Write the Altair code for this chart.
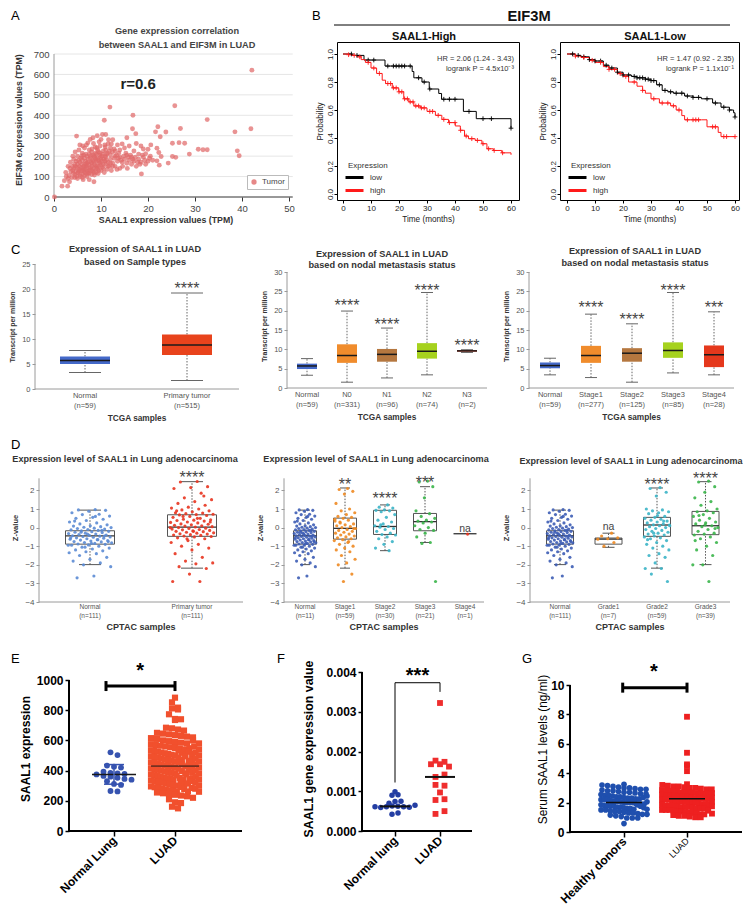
import json
import altair as alt
import pandas as pd

FONT = "Liberation Sans"

# ============================ DATA ============================
# ---- A: SAAL1 (x, TPM) vs EIF3M (y, TPM) in LUAD tumours
A_POINTS = [
    (42.1, 621), (41.9, 334), (38.5, 319), (39.0, 226), (39.4, 202), (32.6, 379),
    (30.7, 234), (31.7, 231), (32.6, 231), (28.8, 210), (26.9, 335), (26.6, 266),
    (27.8, 263), (25.2, 263), (25.2, 198), (25.9, 194), (24.3, 166), (25.7, 447),
    (23.8, 318), (22.1, 344), (21.6, 319), (22.6, 295), (21.9, 239), (22.3, 218),
    (22.8, 198), (21.9, 177), (22.4, 156), (20.6, 255), (18.6, 113), (16.8, 400),
    (16.7, 334), (17.4, 310), (11.9, 440), (10.7, 376), (15.5, 290), (20.0, 234),
    (0.1, 0), (1.7, 53), (2.9, 53), (4.8, 298), (7.7, 282), (8.3, 290), (10.0, 282),
    (10.3, 306), (11.0, 306), (5.5, 255), (6.5, 240), (9.2, 300), (12.5, 280),
    (13.5, 255), (14.5, 260), (15.0, 240), (16.0, 250), (17.5, 262), (18.5, 250),
    (19.0, 235), (17.0, 225), (18.0, 210), (19.5, 212), (20.5, 200), (16.5, 195),
    (15.5, 205), (14.0, 230), (13.0, 225), (12.0, 240), (11.5, 260), (9.8, 250),
    (8.8, 245), (7.5, 230), (6.0, 215), (5.0, 200), (4.2, 185), (3.5, 170), (3.0, 150),
    (2.5, 120), (3.2, 105), (3.8, 95), (4.5, 110), (5.2, 125), (6.2, 140), (7.0, 155),
    (8.0, 165), (9.0, 175), (10.0, 185), (11.0, 195), (12.0, 205), (13.0, 200),
    (14.0, 195), (15.0, 185), (16.0, 180), (17.0, 175), (18.0, 185), (19.0, 195),
    (20.0, 175), (21.0, 180), (19.5, 160), (18.5, 170), (17.5, 150), (16.5, 160),
    (15.5, 165), (14.5, 170), (13.5, 175), (12.5, 165), (11.5, 170), (10.5, 160),
    (9.5, 150), (8.5, 140), (7.5, 130), (6.5, 120), (5.5, 110), (4.8, 100), (4.0, 130),
    (4.5, 150), (5.0, 160), (5.5, 170), (6.0, 180), (6.5, 190), (7.0, 200), (7.5, 210),
    (8.0, 220), (8.5, 200), (9.0, 210), (9.5, 220), (10.5, 225), (11.0, 230),
    (12.0, 185), (13.0, 150), (14.0, 140), (10.0, 130), (9.0, 120), (8.0, 110),
    (7.0, 100), (6.0, 95), (7.5, 85), (8.5, 75), (6.5, 160), (7.2, 170), (8.2, 180),
    (9.2, 190), (10.2, 200), (11.2, 210), (5.8, 145), (6.8, 150), (7.8, 145), (8.8, 155),
    (9.8, 165), (10.8, 175), (11.8, 150), (12.8, 190), (13.8, 215), (3.6, 125),
    (4.3, 140), (5.3, 135), (6.3, 128), (7.3, 118), (8.3, 128), (9.3, 138), (10.3, 145),
    (11.3, 135), (6.7, 175), (7.7, 190), (8.7, 195), (9.7, 205), (5.7, 190), (4.7, 175),
    (8.1, 235), (9.1, 240), (6.9, 255), (10.9, 245), (12.2, 260), (11.6, 280),
    (4.1, 115), (4.6, 125), (5.1, 118), (5.6, 128), (6.1, 112), (6.6, 135), (7.1, 125),
    (7.6, 140), (8.1, 150), (8.6, 160), (9.1, 150), (9.6, 170), (10.1, 175), (10.6, 185),
    (11.1, 180), (4.4, 160), (4.9, 145), (5.4, 150), (5.9, 160), (6.4, 150), (6.9, 165),
    (7.4, 160), (7.9, 170), (8.4, 175), (8.9, 185), (9.4, 180), (9.9, 195), (10.4, 210),
    (10.9, 200), (11.4, 215), (12.4, 220), (5.2, 180), (5.9, 200), (6.3, 205), (6.8, 210),
    (7.3, 185), (7.8, 200), (8.3, 205), (8.8, 215), (9.3, 230), (9.8, 215), (10.8, 255),
    (11.8, 225), (12.8, 235), (13.3, 205), (13.7, 190), (14.3, 180), (14.8, 200),
    (15.3, 215), (15.8, 195), (16.3, 205), (16.8, 185), (17.3, 195), (17.8, 170),
    (18.3, 160), (18.8, 205), (19.3, 180), (20.3, 190), (6.0, 130), (6.5, 105), (7.0, 140),
    (7.5, 115), (8.0, 130), (8.5, 120), (9.0, 140), (9.5, 130), (10.0, 155), (10.5, 140),
    (11.0, 160), (11.5, 150), (12.0, 165), (12.5, 150), (3.4, 140), (3.9, 150), (4.4, 95),
    (5.0, 90), (5.6, 100), (6.2, 85), (7.0, 115), (8.6, 108), (9.4, 115), (10.7, 120),
    (12.2, 130), (13.4, 135), (14.6, 150), (15.6, 140), (4.0, 200), (4.5, 220), (5.3, 230),
    (6.1, 250), (7.2, 265), (8.4, 262), (9.6, 270), (3.0, 90), (2.2, 80), (2.6, 100),
    (3.3, 75),
]
A_XTICKS = [0, 10, 20, 30, 40, 50]
A_YTICKS = [0, 100, 200, 300, 400, 500, 600, 700]
A_R_NOTE = ("r=0.6", 17.9, 553)

# ---- B: Kaplan-Meier curves (months, survival probability)
B1_LOW_T = [0, 3.3, 7.5, 15, 24.7, 25.3, 28.2, 30.8, 34.2, 35.2, 43, 47.6, 60]
B1_LOW_S = [1.0, 0.99, 0.957, 0.914, 0.875, 0.83, 0.80, 0.75, 0.718, 0.677, 0.59, 0.538, 0.47]
B1_HIGH_T = [0, 2, 3.5, 5, 6.5, 8, 10, 12, 14, 15.2, 17.6, 19.9, 21.7, 23.5, 25.3, 27.6, 30,
             33, 35.3, 37.7, 40.1, 41.9, 43.4, 44.8, 47.2, 49.6, 51.4, 53.7, 56.7, 60]
B1_HIGH_S = [1.0, 0.995, 0.99, 0.98, 0.96, 0.94, 0.90, 0.861, 0.813, 0.789, 0.758, 0.73, 0.68,
             0.658, 0.629, 0.615, 0.59, 0.562, 0.533, 0.51, 0.486, 0.455, 0.414, 0.395, 0.383,
             0.359, 0.323, 0.311, 0.294, 0.28]
B1_LOW_CENS = [3, 5, 9, 11, 16, 18, 19, 20, 21, 22, 24, 27, 29, 31, 36, 38, 40, 45, 50, 53, 60]
B1_HIGH_CENS = [2, 4, 6, 9, 11, 13, 16, 17, 18, 19, 20, 21, 22, 23, 24, 25, 26, 27, 28, 29, 31,
                32, 34, 36, 38, 40, 42, 44, 46, 48, 50, 52, 54, 57]
B2_LOW_T = [0, 3, 5, 8, 10, 13, 15, 18, 20, 23, 25, 28, 30, 32, 34, 36, 38, 42, 45, 48, 52,
            55, 58, 59.5, 60]
B2_LOW_S = [1.0, 0.99, 0.98, 0.96, 0.95, 0.92, 0.90, 0.87, 0.85, 0.84, 0.83, 0.82, 0.81, 0.78,
            0.74, 0.73, 0.72, 0.70, 0.69, 0.68, 0.65, 0.62, 0.60, 0.58, 0.55]
B2_HIGH_T = [0, 3, 5, 8, 10, 13, 15, 18, 20, 22, 25, 27, 28, 30, 33, 37, 39, 41, 42, 48, 50,
             54, 55, 60]
B2_HIGH_S = [1.0, 0.985, 0.975, 0.955, 0.94, 0.91, 0.89, 0.86, 0.84, 0.80, 0.77, 0.74, 0.72,
             0.68, 0.65, 0.63, 0.60, 0.56, 0.53, 0.53, 0.48, 0.44, 0.41, 0.41]
B2_LOW_CENS = [2, 4, 6, 8, 10, 12, 14, 16, 18, 20, 22, 24, 25, 26, 27, 28, 29, 30, 31, 33, 35,
               37, 39, 41, 43, 45, 47, 50, 53, 56, 58, 60]
B2_HIGH_CENS = [3, 6, 9, 12, 15, 17, 19, 21, 24, 27, 31, 34, 36, 38, 40, 43, 45, 46, 47, 52,
                53, 56, 57, 60]
B_XTICKS = [0, 10, 20, 30, 40, 50, 60]
B_YTICKS = [0.0, 0.2, 0.4, 0.6, 0.8, 1.0]

# ---- C: TCGA box plots (transcripts per million)
C1_LABELS = [["Normal", "(n=59)"], ["Primary tumor", "(n=515)"]]
C1_MIN, C1_Q1, C1_MED, C1_Q3, C1_MAX = [3.3, 1.7], [5.0, 6.8], [5.7, 8.8], [6.5, 10.9], [7.7, 19.2]
C1_NOTES = [(1, 20.8, "****")]
C2_LABELS = [["Normal", "(n=59)"], ["N0", "(n=331)"], ["N1", "(n=96)"], ["N2", "(n=74)"],
             ["N3", "(n=2)"]]
C2_MIN = [3.3, 1.5, 2.6, 3.4, 9.2]
C2_Q1 = [4.9, 6.5, 6.8, 7.6, 9.4]
C2_MED = [5.7, 8.4, 8.7, 9.5, 9.6]
C2_Q3 = [6.3, 11.3, 10.1, 11.6, 9.8]
C2_MAX = [7.6, 19.9, 15.5, 24.7, 9.9]
C2_NOTES = [(1, 22.2, "****"), (2, 17.3, "****"), (3, 26.1, "****"), (4, 11.9, "****")]
C3_LABELS = [["Normal", "(n=59)"], ["Stage1", "(n=277)"], ["Stage2", "(n=125)"],
             ["Stage3", "(n=85)"], ["Stage4", "(n=28)"]]
C3_MIN = [3.4, 2.7, 1.5, 3.9, 3.4]
C3_Q1 = [5.1, 6.5, 6.8, 7.8, 5.4]
C3_MED = [5.8, 8.4, 9.0, 9.7, 8.6]
C3_Q3 = [6.6, 10.9, 10.3, 11.8, 11.0]
C3_MAX = [7.7, 19.1, 16.6, 24.7, 19.7]
C3_NOTES = [(1, 21.6, "****"), (2, 18.4, "****"), (3, 26.1, "****"), (4, 21.6, "***")]

# ---- D: CPTAC z-values
D_NORMAL = [0.97, 0.95, 0.93, 0.88, 0.8, 0.72, 0.7, 0.62, 0.55, 0.5, 0.45, 0.38, 0.3, 0.25,
            0.2, 0.15, 0.1, 0.08, 0.05, 0.02, 0.0, -0.03, -0.05, -0.08, -0.1, -0.12, -0.15,
            -0.17, -0.2, -0.22, -0.25, -0.27, -0.3, -0.32, -0.35, -0.37, -0.4, -0.42, -0.44,
            -0.46, -0.48, -0.5, -0.52, -0.55, -0.57, -0.6, -0.62, -0.65, -0.67, -0.7, -0.72,
            -0.75, -0.77, -0.8, -0.82, -0.85, -0.88, -0.9, -0.93, -0.95, -1.0, -1.05, -1.1,
            -1.15, -1.2, -1.25, -1.3, -1.35, -1.4, -1.5, -1.6, -1.7, -1.8, -1.9, -2.0, -2.1,
            -2.6, -2.7, -0.45, -0.35, -0.55, -0.65, -0.25, -0.75, -0.85, 0.35, -0.15, -1.05,
            -0.95, 0.6]
D_TUMOR = [2.48, 2.45, 2.2, 2.15, 2.1, 1.85, 1.6, 1.5, 1.4, 1.3, 1.2, 1.1, 1.05, 1.0, 0.95,
           0.9, 0.85, 0.8, 0.78, 0.75, 0.72, 0.7, 0.68, 0.65, 0.6, 0.55, 0.5, 0.45, 0.42, 0.4,
           0.38, 0.35, 0.3, 0.28, 0.25, 0.2, 0.18, 0.15, 0.12, 0.1, 0.08, 0.05, 0.03, 0.0,
           -0.03, -0.05, -0.08, -0.1, -0.12, -0.15, -0.18, -0.2, -0.22, -0.25, -0.28, -0.3,
           -0.33, -0.35, -0.38, -0.4, -0.42, -0.45, -0.48, -0.5, -0.55, -0.6, -0.7, -0.8,
           -0.9, -1.0, -1.1, -1.2, -1.4, -1.6, -1.8, -1.9, -1.95, -2.1, -2.2, -2.5, -2.9,
           -2.9, 0.6, 0.3, -0.2, 0.9, 1.7, -0.6, 0.0, 0.5]
D_STAGE1 = [2.1, 2.05, 1.95, 1.8, 1.3, 1.0, 0.9, 0.8, 0.7, 0.6, 0.55, 0.5, 0.45, 0.4, 0.3,
            0.2, 0.15, 0.1, 0.05, 0.0, -0.05, -0.1, -0.15, -0.2, -0.25, -0.3, -0.35, -0.4,
            -0.45, -0.5, -0.55, -0.6, -0.65, -0.7, -0.8, -0.9, -1.0, -1.1, -1.2, -1.3, -1.5,
            -1.7, -1.9, -2.0, -2.5, -2.9, 0.35, -0.75, 0.25, -0.05]
D_STAGE2 = [1.22, 1.1, 1.05, 0.95, 0.93, 0.9, 0.85, 0.7, 0.55, 0.4, 0.3, 0.2, 0.1, 0.06, 0.02,
            -0.05, -0.1, -0.2, -0.3, -0.37, -0.4, -0.5, -0.6, -0.75, -0.9, -1.1, -1.24, 0.15]
D_STAGE3 = [2.5, 2.45, 2.2, 1.6, 0.9, 0.75, 0.6, 0.5, 0.4, 0.35, 0.3, 0.25, 0.1, 0.0, -0.1,
            -0.15, -0.3, -0.5, -0.8, -0.85, -2.9]
D_STAGE4 = [-0.35]
D_GRADE1 = [-0.3, -0.45, -0.55, -0.6, -0.62, -0.8, -1.0]
D_GRADE2 = [2.15, 2.1, 1.9, 1.7, 1.0, 0.95, 0.9, 0.85, 0.8, 0.75, 0.6, 0.55, 0.5, 0.45, 0.4,
            0.35, 0.3, 0.25, 0.2, 0.15, 0.14, 0.1, 0.05, 0.0, -0.05, -0.1, -0.15, -0.2, -0.25,
            -0.3, -0.35, -0.4, -0.45, -0.5, -0.55, -0.6, -0.7, -0.8, -0.9, -1.0, -1.1, -1.2,
            -1.4, -1.5, -1.6, -1.9, -2.2, -2.2, -2.5, -2.9, 0.65, -0.65, 0.35, -0.3, 0.1]
D_GRADE3 = [2.5, 2.45, 2.2, 1.9, 1.6, 1.4, 1.2, 1.0, 0.9, 0.85, 0.8, 0.7, 0.6, 0.5, 0.4, 0.3,
            0.25, 0.2, 0.1, 0.05, 0.0, -0.1, -0.2, -0.3, -0.35, -0.4, -0.5, -0.6, -0.8, -1.0,
            -1.2, -1.5, -2.0, -2.0, -2.9, 0.65, -0.05, 0.15, -0.7]
D1_LABELS = [["Normal", "(n=111)"], ["Primary tumor", "(n=111)"]]
D1_MIN, D1_Q1, D1_MED, D1_Q3, D1_MAX = [-1.99, -2.18], [-0.89, -0.47], [-0.44, 0.03], [-0.17, 0.69], [0.94, 2.47]
D1_NOTES = [(1, 2.88, "****")]
D2_LABELS = [["Normal", "(n=11)"], ["Stage1", "(n=59)"], ["Stage2", "(n=30)"],
             ["Stage3", "(n=21)"], ["Stage4", "(n=1)"]]
D2_MIN = [-1.99, -2.18, -1.24, -0.8, None]
D2_Q1 = [-0.89, -0.62, -0.37, -0.17, None]
D2_MED = [-0.44, -0.04, 0.06, 0.32, -0.33]
D2_Q3 = [-0.17, 0.51, 0.93, 0.76, None]
D2_MAX = [0.94, 2.13, 1.22, 2.2, None]
D2_NOTES = [(1, 2.47, "**"), (2, 1.71, "****"), (3, 2.57, "***"), (4, -0.08, "na")]
D3_LABELS = [["Normal", "(n=111)"], ["Grade1", "(n=7)"], ["Grade2", "(n=59)"], ["Grade3", "(n=39)"]]
D3_MIN = [-1.99, -1.06, -2.18, -1.99]
D3_Q1 = [-0.89, -0.89, -0.47, -0.38]
D3_MED = [-0.44, -0.62, 0.14, 0.10]
D3_Q3 = [-0.17, -0.56, 0.55, 0.87]
D3_MAX = [0.94, -0.3, 2.13, 2.47]
D3_NOTES = [(1, 0.01, "na"), (2, 2.47, "****"), (3, 2.82, "****")]

# ---- E: SAAL1 expression, normal lung vs LUAD
E_NORMAL = [521, 503, 433, 426, 420, 393, 385, 382, 378, 375, 365, 360, 352, 345, 340, 330,
            312, 305, 265, 262]
E_LUAD = [883, 852, 817, 812, 805, 773, 742, 740, 735, 684, 680, 672, 665, 650, 645, 640, 635,
          630, 625, 620, 615, 610, 600, 595, 590, 585, 580, 575, 570, 565, 560, 555, 550, 545,
          540, 535, 530, 525, 520, 515, 510, 505, 500, 495, 490, 485, 480, 475, 470, 465, 460,
          455, 450, 445, 440, 435, 430, 425, 420, 415, 410, 405, 400, 395, 390, 385, 380, 375,
          370, 365, 360, 355, 350, 345, 340, 335, 330, 325, 320, 315, 310, 305, 300, 295, 290,
          285, 280, 275, 270, 265, 260, 255, 250, 245, 240, 235, 230, 220, 210, 190, 185, 161,
          150, 548, 532, 518, 503, 488, 472, 455, 442, 428, 412, 398, 382, 368, 352, 338, 322,
          308, 292, 278, 262, 525, 495, 465, 435, 405, 375, 345, 315, 285, 510, 470, 430, 390,
          350, 330, 600, 580, 560, 540, 520, 500, 480, 460, 440, 420, 400, 380, 360, 340, 320,
          300, 280, 260]
E_MEAN = [375, 430]
E_SD_NORMAL = (310, 440)
E_LABELS = ["Normal Lung", "LUAD"]

# ---- F: SAAL1 gene expression value
F_NORMAL = [0.00099, 0.00090, 0.00091, 0.00070, 0.00074, 0.00075, 0.00061, 0.00059, 0.00061,
            0.00063, 0.00062, 0.00061, 0.00060, 0.00042, 0.00045, 0.00065]
F_LUAD = [0.00322, 0.00168, 0.00177, 0.00168, 0.00174, 0.00162, 0.00136, 0.00142, 0.00116,
          0.00114, 0.00097, 0.00078, 0.00080, 0.00043, 0.00050]
F_MEDIAN = [0.00062, 0.00136]
F_LABELS = ["Normal lung", "LUAD"]

# ---- G: serum SAAL1 (ng/ml)
G_HEALTHY = [3.25, 3.2, 3.15, 3.1, 3.05, 3.0, 3.0, 2.95, 2.9, 2.9, 2.85, 2.8, 2.8, 2.75, 2.7,
             2.7, 2.65, 2.6, 2.6, 2.55, 2.5, 2.5, 2.45, 2.4, 2.4, 2.35, 2.3, 2.3, 2.25, 2.2, 2.2,
             2.2, 2.15, 2.1, 2.1, 2.1, 2.05, 2.0, 2.0, 2.0, 2.0, 1.95, 1.9, 1.9, 1.9, 1.85, 1.8,
             1.8, 1.8, 1.75, 1.7, 1.7, 1.65, 1.6, 1.6, 1.55, 1.5, 1.5, 1.45, 1.4, 1.4, 1.35, 1.3,
             1.3, 1.25, 1.2, 1.2, 1.15, 1.1, 1.05, 0.95, 0.95, 0.95, 0.57, 2.05, 1.85, 2.25,
             1.75, 2.35, 1.65, 2.45, 1.55]
G_LUAD = [7.84, 5.39, 4.6, 4.5, 4.14, 3.25, 3.2, 3.15, 3.1, 3.1, 3.05, 3.0, 3.0, 2.95, 2.9,
          2.9, 2.85, 2.8, 2.8, 2.75, 2.7, 2.7, 2.7, 2.65, 2.6, 2.6, 2.55, 2.5, 2.5, 2.5, 2.45,
          2.4, 2.4, 2.35, 2.3, 2.3, 2.3, 2.25, 2.2, 2.2, 2.2, 2.15, 2.1, 2.1, 2.1, 2.05, 2.0,
          2.0, 2.0, 1.95, 1.9, 1.9, 1.9, 1.85, 1.8, 1.8, 1.8, 1.75, 1.7, 1.7, 1.7, 1.65, 1.6,
          1.6, 1.6, 1.55, 1.5, 1.5, 1.5, 1.45, 1.4, 1.4, 1.35, 1.3, 1.3, 1.25, 1.2, 1.2, 1.15,
          1.1, 1.1, 1.05, 1.0, 1.0, 2.65, 2.35, 2.05, 1.75, 1.45, 1.25]
G_MEAN = [2.0, 2.27]
G_LABELS = ["Healthy donors", "LUAD"]

# ============================ STYLE ============================
C_COLORS1 = ["#4469c9", "#e8431c"]
C_COLORS2 = ["#4469c9", "#f08c2c", "#b5773f", "#a6d21e", "#e2381c"]
C_COLORS3 = ["#4469c9", "#f08c2c", "#b5773f", "#a6d21e", "#e5381c"]
D_COL_N1, D_COL_N = "#5b8bd4", "#3d5db5"
D_COL_T, D_COL_O, D_COL_C, D_COL_G = "#e8341f", "#ee8a22", "#3bb4c6", "#3ab54a"
# column widths of the 3-column grid (every panel in a column has the same width)
COL_W = [261, 182, 179]
COL_GAP = 41


# ============================ HELPERS ============================
def one(text):
    return pd.DataFrame({"t": [text]})


def label(text, x, y, size, weight="normal", color="#000", align="center", baseline="middle"):
    return alt.Chart(one(text)).mark_text(
        align=align, baseline=baseline, fontSize=size, fontWeight=weight, color=color, font=FONT
    ).encode(x=alt.value(x), y=alt.value(y), text="t:N")


def lin_dom(width_px, ref_px, ref_val, ppu):
    lo = ref_val - ref_px / ppu
    return [lo, lo + width_px / ppu]


def jitter(n, half_px):
    return [((((k + 1) * 0.6180339887) % 1.0) - 0.5) * 2 * half_px for k in range(n)]


def swarm(values, ppu, bin_px, gap_px, half_px):
    bins = {}
    for i, v in enumerate(values):
        bins.setdefault(round(v * ppu / bin_px), []).append(i)
    offs = [0.0] * len(values)
    for idx in bins.values():
        n = len(idx)
        if n < 2:
            continue
        d = min(gap_px, 2 * half_px / (n - 1))
        for k, i in enumerate(idx):
            offs[i] = (k - (n - 1) / 2) * d
    return offs


def step_at(ts, ss, t):
    v = ss[0]
    for ti, si in zip(ts, ss):
        if ti <= t:
            v = si
    return v


# ============================ PANEL A ============================
A_W, A_H, A_AX = COL_W[0], 155, 19
A_PPX, A_PPY = 4.7, 143 / 700
A_XDOM = lin_dom(A_W, A_AX, 0, A_PPX)
A_YDOM = [0, A_H / A_PPY]
sAx = alt.Scale(domain=A_XDOM, nice=False, zero=False)
sAy = alt.Scale(domain=A_YDOM, nice=False, zero=False)
axAx = alt.Axis(values=A_XTICKS, domain=False, grid=False, tickColor="#333", tickSize=4,
                labelFontSize=9.5, labelColor="#444", labelPadding=2, labelFlush=False,
                title="SAAL1 expression values (TPM)", titleFontSize=8.8, titleFontWeight="bold",
                titleColor="#333", titlePadding=3)
axAy = alt.Axis(values=A_YTICKS, domain=False, grid=False, ticks=False, offset=-A_AX,
                labelFontSize=9.5, labelColor="#444", labelPadding=5, labelFlush=False,
                title="EIF3M expression values (TPM)", titleFontSize=8.8, titleFontWeight="bold",
                titleColor="#333", titlePadding=10)


def XA(f):
    return alt.X(f, type="quantitative", scale=sAx, axis=axAx)


def YA(f):
    return alt.Y(f, type="quantitative", scale=sAy, axis=axAy)


A_XEND = 50.8
dfA = pd.DataFrame(A_POINTS, columns=["saal1", "eif3m"])
dfA["grp"] = "Tumor"
gridA = pd.DataFrame({"y": A_YTICKS[1:]})
gridA["x0"] = 0.0
gridA["x1"] = A_XEND
axlA = pd.DataFrame({"x0": [0, 0], "x1": [0, A_XEND], "y0": [0, 0],
                     "y1": [A_YTICKS[-1], 0], "c": ["#9a9a9a", "#333333"]})
noteA = pd.DataFrame({"t": [A_R_NOTE[0]], "x": [A_R_NOTE[1]], "y": [A_R_NOTE[2]]})

panelA = alt.layer(
    alt.Chart(gridA).mark_rule(color="#e6e6e6", strokeWidth=1).encode(
        x=XA("x0"), x2="x1:Q", y=YA("y")),
    alt.Chart(axlA).mark_rule(strokeWidth=1).encode(
        x=XA("x0"), x2="x1:Q", y=YA("y0"), y2="y1:Q", color=alt.Color("c:N", scale=None)),
    alt.Chart(dfA).mark_circle(size=24, opacity=0.72).encode(
        x=XA("saal1"), y=YA("eif3m"),
        color=alt.Color("grp:N", scale=alt.Scale(domain=["Tumor"], range=["#e06a6a"]),
                        legend=alt.Legend(orient="bottom-right", title=None, strokeColor="#bbb",
                                          fillColor="white", padding=3, offset=8,
                                          labelFontSize=8, labelColor="#444", symbolSize=28,
                                          symbolOpacity=0.8))),
    alt.Chart(noteA).mark_text(fontSize=15, fontWeight="bold", color="#222", font=FONT).encode(
        x=XA("x"), y=YA("y"), text="t:N"),
    label("Gene expression correlation", 142, -11, 9.2, "bold", "#444"),
    label("between SAAL1 and EIF3M in LUAD", 142, 3, 9.2, "bold", "#444"),
    label("A", -24, -26, 13, align="left"),
).properties(width=A_W, height=A_H)

# ============================ PANEL B ============================
B_H, B_PPX, B_PPY = 158, 2.8, 140
B_YDOM = [-6 / B_PPY, 1 + 12 / B_PPY]
KM_COLORS = alt.Scale(domain=["low", "high"], range=["#000000", "#ff1a1a"])


def km_panel(low, high, low_c, high_c, width, ax_px, head, head_x, hr1, hr2, extras=()):
    xdom = lin_dom(width, ax_px, 0, B_PPX)
    sx = alt.Scale(domain=xdom, nice=False, zero=False)
    sy = alt.Scale(domain=B_YDOM, nice=False, zero=False)
    axx = alt.Axis(values=B_XTICKS, domain=False, grid=False, tickColor="#000", tickSize=3,
                   labelFontSize=8, labelColor="#222", labelPadding=1, labelFlush=False,
                   title="Time (months)", titleFontSize=8.2, titleFontWeight="normal",
                   titleColor="#222", titlePadding=3)
    axy = alt.Axis(values=B_YTICKS, format=".1f", domain=False, grid=False, tickColor="#000",
                   tickSize=3, labelAngle=270, labelAlign="center", labelBaseline="bottom",
                   labelFontSize=8, labelColor="#222", labelPadding=0, labelFlush=False,
                   title="Probability", titleFontSize=8.2, titleFontWeight="normal",
                   titleColor="#222", titlePadding=2)
    rows, cens = [], []
    for grp, (ts, ss), cs in (("low", low, low_c), ("high", high, high_c)):
        rows += [{"t": t, "s": s, "grp": grp} for t, s in zip(ts, ss)]
        cens += [{"t": t, "s": step_at(ts, ss, t), "grp": grp} for t in cs]
    X = alt.X("t:Q", scale=sx, axis=axx)
    Y = alt.Y("s:Q", scale=sy, axis=axy)
    lines = alt.Chart(pd.DataFrame(rows)).mark_line(interpolate="step-after", strokeWidth=1).encode(
        x=X, y=Y,
        color=alt.Color("grp:N", scale=KM_COLORS,
                        legend=alt.Legend(title="Expression", orient="none", legendX=11,
                                          legendY=120, padding=0, titleFontSize=8,
                                          titleFontWeight="normal", titleColor="#333",
                                          labelFontSize=8, labelColor="#333",
                                          symbolType="M-1.8,0L1.8,0", symbolSize=100,
                                          symbolStrokeWidth=3, rowPadding=0, titlePadding=1,
                                          labelOffset=9)))
    marks = alt.Chart(pd.DataFrame(cens)).mark_point(
        shape="M-1,0L1,0M0,-1L0,1", size=22, strokeWidth=0.9, filled=False, opacity=1).encode(
        x=X, y=Y, color=alt.Color("grp:N", scale=KM_COLORS, legend=None))
    return alt.layer(
        lines, marks,
        label(hr1, width - 5, 17, 7.5, color="#333", align="right"),
        label(hr2, width - 5, 27, 7.5, color="#333", align="right"),
        label(head, head_x, -5, 11, "bold", "#111"),
        *extras,
    ).properties(width=width, height=B_H, view=alt.ViewBackground(stroke="black", strokeWidth=1))


eif3m_rule = alt.Chart(one("")).mark_rule(color="black", strokeWidth=1).encode(
    x=alt.value(-3), x2=alt.value(393), y=alt.value(-17))
panelB1 = km_panel((B1_LOW_T, B1_LOW_S), (B1_HIGH_T, B1_HIGH_S), B1_LOW_CENS, B1_HIGH_CENS,
                   COL_W[1], 6, "SAAL1-High", 87, "HR = 2.06 (1.24 - 3.43)",
                   "logrank P = 4.5x10\u207b\u00b3",
                   extras=(eif3m_rule, label("EIF3M", 192, -25, 14.7, "bold", "#111"),
                           label("B", -25, -26, 13, align="left")))
panelB2 = km_panel((B2_LOW_T, B2_LOW_S), (B2_HIGH_T, B2_HIGH_S), B2_LOW_CENS, B2_HIGH_CENS,
                   COL_W[2], 7, "SAAL1-Low", 95, "HR = 1.47 (0.92 - 2.35)",
                   "logrank P = 1.1x10\u207b\u00b9")


# ============================ BOX PANELS (C, D) ============================
def box_panel(labels, mins, q1s, meds, q3s, maxs, colors, *, width, height, ax_px, end_px,
              first_px, step_px, ydom, yticks, ytop, box_px, cap_px, filled, xtitle, ytitle,
              lab_size, xt_size, ylab_size, yt_size, yt_pad, lab_pad, xt_pad, notes=(),
              points=(), jit_px=0, pt_size=10, star_size=16, extras=()):
    n = len(labels)
    xdom = lin_dom(width, first_px, 0, step_px)
    ax_val = xdom[0] + ax_px / step_px
    end_val = xdom[0] + end_px / step_px
    sx = alt.Scale(domain=xdom, nice=False, zero=False)
    sy = alt.Scale(domain=ydom, nice=False, zero=False)
    axy = alt.Axis(values=yticks, domain=False, grid=False, tickColor="#999", tickSize=3,
                   labelFontSize=ylab_size, labelColor="#555", labelPadding=2, offset=-ax_px,
                   labelFlush=False, title=ytitle, titleFontSize=yt_size, titleFontWeight="bold",
                   titleColor="#333", titlePadding=yt_pad)

    def X(f):
        return alt.X(f, type="quantitative", scale=sx, axis=None)

    def Y(f):
        return alt.Y(f, type="quantitative", scale=sy, axis=axy)

    bh, ch = box_px / step_px, cap_px / step_px
    df = pd.DataFrame({"pos": list(range(n)), "mn": mins, "q1": q1s, "md": meds, "q3": q3s,
                       "mx": maxs, "c": colors}).astype({"mn": float, "q1": float, "q3": float,
                                                          "mx": float, "md": float})
    df["x0"], df["x1"] = df["pos"] - bh, df["pos"] + bh
    df["c0"], df["c1"] = df["pos"] - ch, df["pos"] + ch
    wh = pd.concat([
        df[["pos", "mn", "q1"]].rename(columns={"mn": "a", "q1": "b"}),
        df[["pos", "q3", "mx"]].rename(columns={"q3": "a", "mx": "b"}),
    ]).dropna()
    caps = pd.concat([
        df[["c0", "c1", "mn"]].rename(columns={"mn": "y"}),
        df[["c0", "c1", "mx"]].rename(columns={"mx": "y"}),
    ]).dropna()
    boxes = df.dropna(subset=["q1", "q3"])
    axl = pd.DataFrame({"x0": [ax_val, ax_val], "x1": [ax_val, end_val],
                        "y0": [ydom[0], ydom[0]], "y1": [ytop, ydom[0]]})
    labdf = pd.DataFrame({"pos": list(range(n)), "t": ["\n".join(l) for l in labels]})
    wcol = "#666" if filled else "#555"
    line_h = lab_size + 2.5
    layers = [
        alt.Chart(axl).mark_rule(color="#9a9a9a", strokeWidth=1).encode(
            x=X("x0"), x2="x1:Q", y=Y("y0"), y2="y1:Q"),
        alt.Chart(wh).mark_rule(color=wcol, strokeWidth=1, strokeDash=[1.5, 1.5]).encode(
            x=X("pos"), y=Y("a"), y2="b:Q"),
        alt.Chart(caps).mark_rule(color=wcol, strokeWidth=1).encode(
            x=X("c0"), x2="c1:Q", y=Y("y")),
        # category labels under the x axis (two lines: name and n)
        alt.Chart(labdf).mark_text(fontSize=lab_size, color="#555", baseline="top",
                                   lineBreak="\n", lineHeight=line_h, font=FONT).encode(
            x=X("pos"), y=alt.value(height + lab_pad), text="t:N"),
        label(xtitle, (ax_px + end_px) / 2, height + lab_pad + 2 * line_h + xt_pad, xt_size,
              "bold", "#333", baseline="top"),
    ]
    if filled:
        layers.append(alt.Chart(boxes).mark_rect().encode(
            x=X("x0"), x2="x1:Q", y=Y("q1"), y2="q3:Q", fill=alt.Fill("c:N", scale=None)))
        layers.append(alt.Chart(df).mark_rule(color="#1a1a1a", strokeWidth=1.5).encode(
            x=X("x0"), x2="x1:Q", y=Y("md")))
    else:
        layers.append(alt.Chart(boxes).mark_rect(fill="white", fillOpacity=0, stroke="#555",
                                                 strokeWidth=1).encode(
            x=X("x0"), x2="x1:Q", y=Y("q1"), y2="q3:Q"))
        layers.append(alt.Chart(df).mark_rule(color="#333", strokeWidth=1.3).encode(
            x=X("x0"), x2="x1:Q", y=Y("md")))
    if points:
        prow = []
        for pos, vals, col in points:
            for v, o in zip(vals, jitter(len(vals), jit_px)):
                prow.append({"x": pos + o / step_px, "y": v, "c": col})
        layers.append(alt.Chart(pd.DataFrame(prow)).mark_circle(size=pt_size, opacity=0.9).encode(
            x=X("x"), y=Y("y"), color=alt.Color("c:N", scale=None)))
    stars = [nt for nt in notes if nt[2] != "na"]
    nas = [nt for nt in notes if nt[2] == "na"]
    if stars:
        layers.append(alt.Chart(pd.DataFrame(stars, columns=["x", "y", "t"])).mark_text(
            fontSize=star_size, color="#444", baseline="middle", dy=star_size * 0.22,
            font=FONT).encode(x=X("x"), y=Y("y"), text="t:N"))
    if nas:
        layers.append(alt.Chart(pd.DataFrame(nas, columns=["x", "y", "t"])).mark_text(
            fontSize=10.5, color="#444", baseline="middle", font=FONT).encode(
            x=X("x"), y=Y("y"), text="t:N"))
    layers += list(extras)
    return alt.layer(*layers).properties(width=width, height=height)


C_YT30 = [0, 5, 10, 15, 20, 25, 30]
C_COMMON = dict(filled=True, xtitle="TCGA samples", ytitle="Transcript per million", lab_size=7.5,
                xt_size=8.3, ylab_size=7.5, yt_size=7, yt_pad=6, lab_pad=3, xt_pad=2,
                star_size=16)
panelC1 = box_panel(C1_LABELS, C1_MIN, C1_Q1, C1_MED, C1_Q3, C1_MAX, C_COLORS1,
                    width=COL_W[0], height=125, ax_px=0, end_px=204, first_px=50, step_px=102,
                    ydom=[0, 25], yticks=[0, 5, 10, 15, 20, 25], ytop=25, box_px=25, cap_px=16,
                    notes=C1_NOTES, **C_COMMON,
                    extras=(label("Expression of SAAL1 in LUAD", 100, -15, 9.2, "bold", "#333"),
                            label("based on Sample types", 100, -2, 9.2, "bold", "#333"),
                            label("C", -24, -14, 13, align="left")))
panelC2 = box_panel(C2_LABELS, C2_MIN, C2_Q1, C2_MED, C2_Q3, C2_MAX, C_COLORS2,
                    width=COL_W[1], height=124, ax_px=-50, end_px=150, first_px=-30, step_px=40,
                    ydom=[0, 124 / (116 / 30)], yticks=C_YT30, ytop=30, box_px=10, cap_px=6,
                    notes=C2_NOTES, **C_COMMON,
                    extras=(label("Expression of SAAL1 in LUAD", 45, -10, 9.2, "bold", "#333"),
                            label("based on nodal metastasis status", 45, 1, 9.2, "bold", "#333")))
panelC3 = box_panel(C3_LABELS, C3_MIN, C3_Q1, C3_MED, C3_Q3, C3_MAX, C_COLORS3,
                    width=COL_W[2], height=124, ax_px=-31, end_px=174, first_px=-10, step_px=41,
                    ydom=[0, 124 / (116 / 30)], yticks=C_YT30, ytop=30, box_px=10, cap_px=6,
                    notes=C3_NOTES, **C_COMMON,
                    extras=(label("Expression of SAAL1 in LUAD", 75, -13, 9.2, "bold", "#333"),
                            label("based on nodal metastasis status", 75, -1, 9.2, "bold", "#333")))

D_PPU = 18.6
D_YDOM = [-4, -4 + 149 / D_PPU]
D_YT = [-4, -3, -2, -1, 0, 1, 2]
D_TITLE = "Expression level of SAAL1 in Lung adenocarcinoma"
D_COMMON = dict(filled=False, xtitle="CPTAC samples", ytitle="Z-value", lab_size=6.5, xt_size=9,
                ylab_size=8, yt_size=7.5, yt_pad=5, lab_pad=2, xt_pad=1, star_size=16,
                ydom=D_YDOM, yticks=D_YT, ytop=2.65, height=149, pt_size=10)
panelD1 = box_panel(D1_LABELS, D1_MIN, D1_Q1, D1_MED, D1_Q3, D1_MAX, ["", ""],
                    width=COL_W[0], ax_px=4, end_px=208, first_px=55, step_px=102, box_px=24.5,
                    cap_px=11, notes=D1_NOTES,
                    points=[(0, D_NORMAL, D_COL_N1), (1, D_TUMOR, D_COL_T)],
                    jit_px=22, **D_COMMON,
                    extras=(label(D_TITLE, 90, 6, 9.1, "bold", "#333"),
                            label("D", -24, -8, 13, align="left")))
panelD2 = box_panel(D2_LABELS, D2_MIN, D2_Q1, D2_MED, D2_Q3, D2_MAX, [""] * 5,
                    width=COL_W[1], ax_px=-53, end_px=147, first_px=-32, step_px=40, box_px=11.5,
                    cap_px=5, notes=D2_NOTES,
                    points=[(0, D_NORMAL, D_COL_N), (1, D_STAGE1, D_COL_O), (2, D_STAGE2, D_COL_C),
                            (3, D_STAGE3, D_COL_G), (4, D_STAGE4, D_COL_T)],
                    jit_px=11, **D_COMMON,
                    extras=(label(D_TITLE, 39, 6, 9.1, "bold", "#333"),))
panelD3 = box_panel(D3_LABELS, D3_MIN, D3_Q1, D3_MED, D3_Q3, D3_MAX, [""] * 4,
                    width=COL_W[2], ax_px=-30, end_px=170, first_px=0, step_px=48.5, box_px=13.5,
                    cap_px=6, notes=D3_NOTES,
                    points=[(0, D_NORMAL, D_COL_N), (1, D_GRADE1, D_COL_O), (2, D_GRADE2, D_COL_C),
                            (3, D_GRADE3, D_COL_G)],
                    jit_px=13, **D_COMMON,
                    extras=(label(D_TITLE, 71, 8, 9.0, "bold", "#333"),))


# ============================ DOT PANELS (E, F, G) ============================
def dot_panel(groups, labels, *, width, height, ax_px, end_px, first_px, step_px, ydom, yticks,
              ytop, yppu, yfmt, ytitle, yt_weight, yt_size, yt_pad, lab_size, lab_weight, segs,
              star, extras=()):
    xdom = lin_dom(width, first_px, 1, step_px)
    ax_val = xdom[0] + ax_px / step_px
    end_val = xdom[0] + end_px / step_px
    sx = alt.Scale(domain=xdom, nice=False, zero=False)
    sy = alt.Scale(domain=ydom, nice=False, zero=False)
    expr = "datum.value == 1 ? %s : datum.value == 2 ? %s : ''" % (json.dumps(labels[0]),
                                                                     json.dumps(labels[1]))
    axx = alt.Axis(values=[1, 2], labelExpr=expr, domain=False, grid=False, tickColor="#000",
                   tickWidth=1.5, tickSize=5, labelAngle=315, labelAlign="right",
                   labelBaseline="middle", labelFontSize=lab_size, labelFontWeight=lab_weight,
                   labelColor="#000", labelPadding=2, labelOverlap=False, labelFlush=False,
                   title=None)
    axy = alt.Axis(values=yticks, format=yfmt, domain=False, grid=False, tickColor="#000",
                   tickWidth=1.5, tickSize=4, labelFontSize=12, labelFontWeight="bold",
                   labelColor="#000", labelPadding=2, offset=-ax_px, labelFlush=False,
                   title=ytitle, titleFontSize=yt_size, titleFontWeight=yt_weight,
                   titleColor="#000", titlePadding=yt_pad)

    def X(f):
        return alt.X(f, type="quantitative", scale=sx, axis=axx)

    def Y(f):
        return alt.Y(f, type="quantitative", scale=sy, axis=axy)

    axl = pd.DataFrame({"x0": [ax_val, ax_val], "x1": [ax_val, end_val], "y0": [0, 0],
                        "y1": [ytop, 0]})
    layers = [alt.Chart(axl).mark_rule(color="#000", strokeWidth=2).encode(
        x=X("x0"), x2="x1:Q", y=Y("y0"), y2="y1:Q")]
    for g in groups:
        offs = swarm(g["vals"], yppu, g["bin"], g["gap"], g["half"])
        dfp = pd.DataFrame({"x": [g["pos"] + o / step_px for o in offs], "y": g["vals"]})
        layers.append(alt.Chart(dfp).mark_point(filled=True, opacity=1, shape=g["shape"],
                                                size=g["size"], color=g["color"]).encode(
            x=X("x"), y=Y("y")))
    sdf = pd.DataFrame([{"x0": s[0], "x1": s[1], "y0": s[2], "y1": s[3], "c": s[4], "w": s[5]}
                        for s in segs])
    layers.append(alt.Chart(sdf).mark_rule().encode(
        x=X("x0"), x2="x1:Q", y=Y("y0"), y2="y1:Q", color=alt.Color("c:N", scale=None),
        strokeWidth=alt.StrokeWidth("w:Q", scale=None)))
    layers.append(alt.Chart(pd.DataFrame([star], columns=["x", "y", "t"])).mark_text(
        fontSize=20, fontWeight="bold", color="#000", baseline="middle", dy=4.4,
        font=FONT).encode(x=X("x"), y=Y("y"), text="t:N"))
    layers += list(extras)
    return alt.layer(*layers).properties(width=width, height=height)


# ---- E geometry
E_PPY, E_STEP = 0.151, 61
E_BR_X0 = 1 - 8 / E_STEP
E_BR_Y, E_BR_T = 960, 5 / E_PPY
E_SEGS = [
    (1 - 22 / E_STEP, 1 + 22 / E_STEP, E_MEAN[0], E_MEAN[0], "#1a1a1a", 1.5),
    (1, 1, E_SD_NORMAL[0], E_SD_NORMAL[1], "#3653b0", 1.5),
    (1 - 10 / E_STEP, 1 + 10 / E_STEP, E_SD_NORMAL[0], E_SD_NORMAL[0], "#3653b0", 1.5),
    (1 - 10 / E_STEP, 1 + 10 / E_STEP, E_SD_NORMAL[1], E_SD_NORMAL[1], "#3653b0", 1.5),
    (2 - 24 / E_STEP, 2 + 24 / E_STEP, E_MEAN[1], E_MEAN[1], "#1a1a1a", 1),
    (E_BR_X0, 2, E_BR_Y, E_BR_Y, "#000", 3),
    (E_BR_X0, E_BR_X0, E_BR_Y - E_BR_T, E_BR_Y + E_BR_T, "#000", 3),
    (2, 2, E_BR_Y - E_BR_T, E_BR_Y + E_BR_T, "#000", 3),
]
panelE = dot_panel(
    [dict(pos=1, vals=E_NORMAL, shape="circle", size=34, color="#3653b0", bin=6, gap=7, half=22),
     dict(pos=2, vals=E_LUAD, shape="square", size=38, color="#f1502d", bin=6, gap=6, half=24)],
    E_LABELS, width=COL_W[0], height=165, ax_px=34, end_px=207, first_px=79, step_px=E_STEP,
    ydom=[0, 165 / E_PPY], yticks=[0, 200, 400, 600, 800, 1000], ytop=1000, yppu=E_PPY,
    yfmt="d", ytitle="SAAL1 expression", yt_weight="bold", yt_size=12, yt_pad=4, lab_size=12,
    lab_weight="bold", segs=E_SEGS, star=(1.43, 1086, "*"),
    extras=(label("E", -24, -7, 13, align="left"),))

# ---- F geometry
F_PPY, F_STEP = 159 / 0.004, 45
F_SEGS = [
    (1 - 15 / F_STEP, 1 + 15 / F_STEP, F_MEDIAN[0], F_MEDIAN[0], "#111", 2),
    (2 - 15 / F_STEP, 2 + 15 / F_STEP, F_MEDIAN[1], F_MEDIAN[1], "#111", 2),
    (1, 1, 0.00122, 0.00373, "#000", 1),
    (1, 2, 0.00373, 0.00373, "#000", 1),
    (2, 2, 0.0035, 0.00373, "#000", 1),
]
panelF = dot_panel(
    [dict(pos=1, vals=F_NORMAL, shape="circle", size=30, color="#243ea3", bin=6, gap=6, half=20),
     dict(pos=2, vals=F_LUAD, shape="square", size=34, color="#ef2d2d", bin=6, gap=9, half=20)],
    F_LABELS, width=COL_W[1], height=165, ax_px=25, end_px=135, first_px=58, step_px=F_STEP,
    ydom=[0, 165 / F_PPY], yticks=[0, 0.001, 0.002, 0.003, 0.004], ytop=0.004, yppu=F_PPY,
    yfmt=".3f", ytitle="SAAL1 gene expression value", yt_weight="bold", yt_size=12.4,
    yt_pad=10, lab_size=12, lab_weight="bold", segs=F_SEGS, star=(1.5, 0.00400, "***"),
    extras=(label("F", -60, -7, 13, align="left"),))

# ---- G geometry
G_PPY, G_STEP = 14.7, 63
G_BR_X0 = 1 - 1.3 / G_STEP
G_BR_Y, G_BR_T = 9.82, 5 / G_PPY
G_SEGS = [
    (1 - 18 / G_STEP, 1 + 18 / G_STEP, G_MEAN[0], G_MEAN[0], "#111", 1.5),
    (2 - 18 / G_STEP, 2 + 18 / G_STEP, G_MEAN[1], G_MEAN[1], "#111", 1.5),
    (G_BR_X0, 2, G_BR_Y, G_BR_Y, "#000", 3),
    (G_BR_X0, G_BR_X0, G_BR_Y - G_BR_T, G_BR_Y + G_BR_T, "#000", 3),
    (2, 2, G_BR_Y - G_BR_T, G_BR_Y + G_BR_T, "#000", 3),
]
panelG = dot_panel(
    [dict(pos=1, vals=G_HEALTHY, shape="circle", size=32, color="#1f4fae", bin=5, gap=5.5, half=23),
     dict(pos=2, vals=G_LUAD, shape="square", size=34, color="#ee2020", bin=5, gap=5.5, half=25)],
    G_LABELS, width=COL_W[2], height=166, ax_px=10, end_px=182, first_px=64, step_px=G_STEP,
    ydom=[0, 166 / G_PPY], yticks=[0, 2, 4, 6, 8, 10], ytop=10, yppu=G_PPY, yfmt="d",
    ytitle="Serum SAAL1 levels (ng/ml)", yt_weight="normal", yt_size=11.9, yt_pad=2,
    lab_size={"condition": {"test": "datum.value == 2", "value": 9}, "value": 12},
    lab_weight={"condition": {"test": "datum.value == 2", "value": "normal"}, "value": "bold"},
    segs=G_SEGS, star=(1.476, 11.16, "*"),
    extras=(label("G", -38, -7, 13, align="left"),))

# ============================ ASSEMBLY ============================
chart = alt.concat(
    panelA, panelB1, panelB2,
    panelC1, panelC2, panelC3,
    panelD1, panelD2, panelD3,
    panelE, panelF, panelG,
    columns=3,
    spacing=alt.RowColnumber(row=64, column=COL_GAP),
    align=alt.RowColLayoutAlign(row="each", column="each"),
    bounds="flush",
).resolve_scale(color="independent").properties(padding=0).configure(font=FONT).configure_view(
    stroke=None)

chart.save("out.html", embed_options={"renderer": "svg", "actions": False})
